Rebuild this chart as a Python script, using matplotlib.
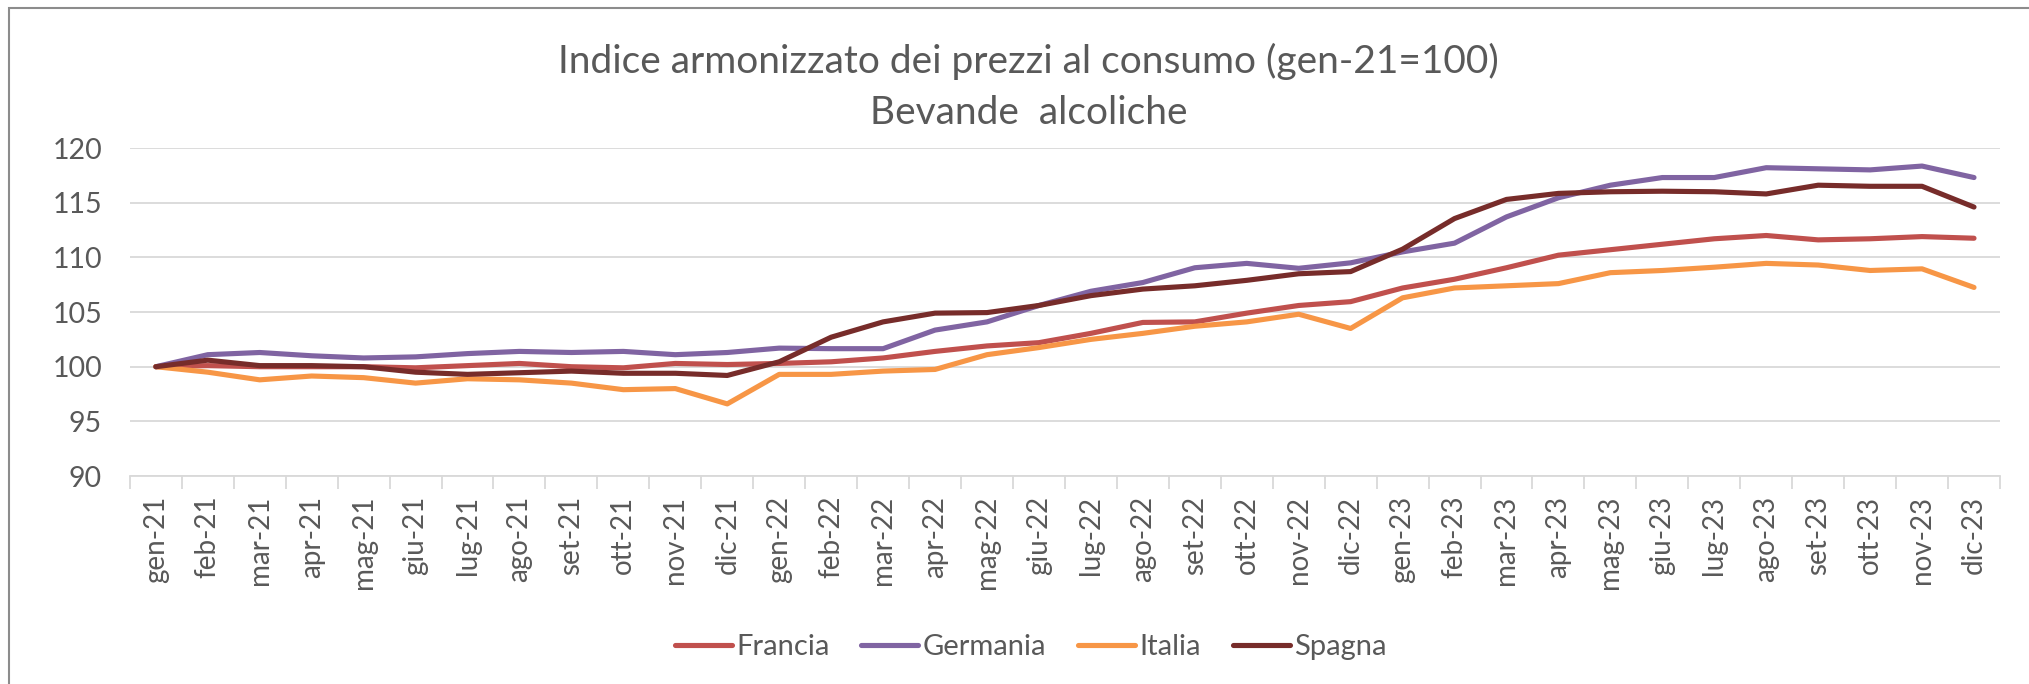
import numpy as np
import matplotlib
matplotlib.use("Agg")
import matplotlib.pyplot as plt
from matplotlib.patches import Rectangle

plt.rcParams['font.family'] = ['Lato', 'DejaVu Sans']

# mesi gen-21 .. dic-23
mesi = ['gen', 'feb', 'mar', 'apr', 'mag', 'giu', 'lug', 'ago', 'set', 'ott', 'nov', 'dic']
etichette = [m + '-' + a for a in ['21', '22', '23'] for m in mesi]

francia = [100.0, 100.1, 100.0, 100.0, 100.0, 99.9, 100.1, 100.3, 100.0, 99.9, 100.3, 100.2,
           100.3, 100.45, 100.8, 101.4, 101.9, 102.2, 103.05, 104.05, 104.1, 104.9, 105.6, 105.95,
           107.2, 108.0, 109.05, 110.2, 110.7, 111.2, 111.7, 112.0, 111.6, 111.7, 111.9, 111.75]
germania = [100.0, 101.1, 101.3, 101.0, 100.8, 100.9, 101.2, 101.4, 101.3, 101.4, 101.1, 101.3,
            101.7, 101.65, 101.65, 103.35, 104.1, 105.6, 106.9, 107.7, 109.05, 109.45, 109.0, 109.5,
            110.5, 111.3, 113.7, 115.45, 116.6, 117.3, 117.3, 118.2, 118.1, 118.0, 118.35, 117.3]
italia = [100.0, 99.5, 98.8, 99.15, 99.0, 98.5, 98.9, 98.8, 98.5, 97.9, 98.0, 96.6,
          99.3, 99.3, 99.6, 99.75, 101.1, 101.75, 102.5, 103.05, 103.7, 104.1, 104.8, 103.5,
          106.3, 107.2, 107.4, 107.6, 108.6, 108.8, 109.1, 109.45, 109.3, 108.8, 108.95, 107.25]
spagna = [100.0, 100.6, 100.1, 100.1, 100.0, 99.5, 99.3, 99.45, 99.6, 99.4, 99.4, 99.2,
          100.45, 102.7, 104.1, 104.9, 104.95, 105.6, 106.5, 107.1, 107.4, 107.9, 108.5, 108.7,
          110.75, 113.55, 115.3, 115.85, 116.0, 116.05, 116.0, 115.8, 116.6, 116.5, 116.5, 114.6]

serie = [('Francia', francia, '#C0504D'),
         ('Germania', germania, '#8064A2'),
         ('Italia', italia, '#F79646'),
         ('Spagna', spagna, '#772C2A')]

grigio = '#595959'
griglia = '#D9D9D9'

fig = plt.figure(figsize=(20.29, 6.84), dpi=100)
ax = fig.add_axes([0.064, 0.304, 0.9217, 0.4796])

x = np.arange(len(etichette))
for nome, valori, colore in serie:
    ax.plot(x, valori, color=colore, lw=3.7, label=nome, solid_capstyle='round')

ax.set_xlim(-0.5, len(etichette) - 0.5)
ax.set_ylim(90, 120)
ax.set_yticks(range(90, 121, 5))
ax.grid(axis='y', color=griglia, lw=1.3)
ax.set_axisbelow(True)

ax.set_xticks(x)
ax.set_xticklabels(etichette, rotation=90)
ax.set_xticks(np.arange(-0.5, len(etichette), 1), minor=True)
ax.tick_params(axis='x', which='major', length=0, pad=14, labelsize=20, labelcolor=grigio)
ax.tick_params(axis='x', which='minor', length=9, width=1.3, color=griglia)
ax.tick_params(axis='y', length=0, pad=20, labelsize=20.5, labelcolor=grigio)

for lato in ['top', 'right', 'left']:
    ax.spines[lato].set_visible(False)
ax.spines['bottom'].set_color(griglia)
ax.spines['bottom'].set_linewidth(1.3)

fig.text(0.507, 0.91, 'Indice armonizzato dei prezzi al consumo (gen-21=100)',
         ha='center', va='center', fontsize=28, color=grigio)
fig.text(0.507, 0.835, 'Bevande  alcoliche', ha='center', va='center', fontsize=28, color=grigio)

leg = fig.legend(loc='center', bbox_to_anchor=(0.508, 0.054), ncol=4, frameon=False,
                 fontsize=21, handlelength=1.95, handletextpad=0.15, columnspacing=1.1)
for t in leg.get_texts():
    t.set_color(grigio)

# bordo dell'area del grafico
fig.add_artist(Rectangle((9 / 2029, -0.05), 1.1, 1 - 8 / 684 + 0.05, transform=fig.transFigure,
                         fill=False, edgecolor='#8C8C8C', lw=1.5))

fig.savefig('out.png', dpi=100)
